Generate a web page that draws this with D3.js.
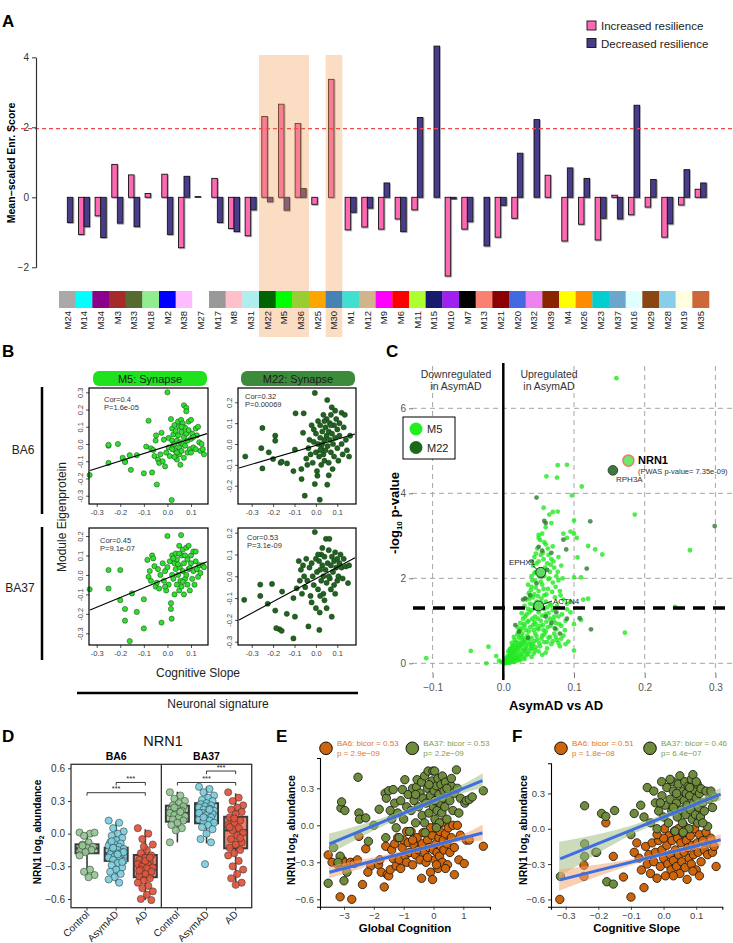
<!DOCTYPE html>
<html><head><meta charset="utf-8">
<script src="https://cdn.jsdelivr.net/npm/d3@7"></script>
<style>body{margin:0;background:#fff}svg{display:block}</style>
</head><body>
<script>
// ---------------- DATA ----------------
const modules = ["M24","M14","M34","M3","M33","M18","M2","M38","M27","M17","M8","M31","M22","M5","M36","M25","M30","M1","M12","M9","M6","M11","M15","M10","M7","M13","M21","M20","M32","M39","M4","M26","M23","M37","M16","M29","M28","M19","M35"];
const moduleColors = ["#A9A9A9","#00FFFF","#8B008B","#A52A2A","#556B2F","#90EE90","#0000FF","#FFBBFF","#FFFFFF","#999999","#FFC0CB","#AFEEEE","#006400","#00FF00","#9ACD32","#FFA500","#4682B4","#40E0D0","#D2B48C","#FF00FF","#FF0000","#ADFF2F","#191970","#A020F0","#000000","#FA8072","#8B0000","#4169E1","#EE82EE","#8B2500","#FFFF00","#FF8C00","#00CED1","#6CA6CD","#E0FFFF","#8B4513","#87CEEB","#FFFFE0","#CD6839"];
const incScore = [0,-1.06,-0.53,0.94,0.64,0.11,0.66,-1.44,0.02,0.54,-0.89,-1.10,2.31,2.66,2.11,-0.20,3.37,-0.93,-0.85,-0.91,-0.62,-0.36,0,-2.25,-0.91,0,-1.14,-0.60,0,0.63,-1.25,-0.77,-1.22,0.06,-0.50,-0.28,-1.14,-0.22,0.23];
const decScore = [-0.72,-0.84,-1.15,-0.74,-0.84,0,-1.06,0.60,0,-0.72,-0.98,-0.36,-0.13,-0.37,0.25,0,0,-0.43,-0.31,0.41,-0.98,2.28,4.32,-0.05,-0.70,-1.39,-0.23,1.26,2.22,0,0.84,0.54,-0.60,-0.62,2.63,0.51,-0.76,0.79,0.41];
const highlighted = [["M22","M36"],["M30","M30"]];
const scoreTicks = [-2,0,2,4];
const threshold = 1.96;

// Panel B
const bM5BA6 = [[-0.33,-0.18],[-0.25,-0.01],[-0.25,-0.005],[-0.25,-0.11],[-0.21,0.0],[-0.19,-0.08],[-0.18,-0.1],[-0.18,-0.105],[-0.16,-0.065],[-0.155,-0.15],[-0.13,-0.065],[-0.1,-0.17],[-0.09,-0.015],[-0.08,0.135],[-0.07,-0.025],[-0.065,-0.165],[-0.06,-0.035],[-0.055,-0.07],[-0.05,0.02],[-0.048,0.05],[-0.045,-0.235],[-0.04,-0.09],[-0.035,-0.11],[-0.03,-0.06],[-0.025,0.065],[-0.02,-0.1],[-0.015,0.025],[-0.01,-0.13],[-0.005,-0.05],[0.0,0.3],[0.005,-0.02],[0.005,0.035],[0.01,-0.07],[0.015,0.145],[0.018,-0.325],[0.02,0.02],[0.02,0.09],[0.025,-0.01],[0.025,0.055],[0.03,0.0],[0.03,0.11],[0.035,-0.04],[0.035,0.075],[0.04,0.02],[0.04,-0.09],[0.045,0.13],[0.045,0.05],[0.05,-0.02],[0.05,0.1],[0.05,-0.06],[0.055,0.01],[0.055,-0.12],[0.058,0.14],[0.06,0.07],[0.06,-0.04],[0.065,0.0],[0.065,0.12],[0.07,0.225],[0.07,0.04],[0.07,-0.08],[0.075,0.095],[0.075,-0.01],[0.08,0.21],[0.08,0.06],[0.08,0.19],[0.085,0.02],[0.085,-0.05],[0.09,0.13],[0.09,0.08],[0.095,-0.03],[0.1,0.03],[0.1,0.14],[0.105,0.06],[0.11,-0.02],[0.12,0.09],[0.12,-0.03],[0.125,0.05],[0.13,0.1],[0.135,0.01],[0.14,-0.04],[0.145,0.0],[0.15,-0.03],[0.155,-0.06],[0.06,0.1],[0.04,-0.05],[0.03,-0.075],[0.02,-0.03],[0.1,-0.05],[0.11,0.04]];
const bM22BA6 = [[-0.33,-0.06],[-0.25,0.077],[-0.255,-0.02],[-0.25,-0.117],[-0.22,-0.04],[-0.19,0.04],[-0.19,0.016],[-0.2,-0.072],[-0.165,-0.09],[-0.16,-0.085],[-0.135,-0.093],[-0.105,-0.13],[-0.095,0.147],[-0.098,-0.027],[-0.057,0.147],[-0.068,-0.12],[-0.067,-0.168],[-0.052,-0.248],[-0.06,0.054],[-0.045,-0.07],[-0.04,-0.1],[-0.035,-0.02],[-0.03,0.02],[-0.025,-0.05],[-0.02,0.09],[-0.015,-0.09],[-0.01,0.01],[-0.005,0.245],[-0.005,-0.192],[0.0,0.05],[0.0,-0.04],[0.005,-0.13],[0.007,-0.152],[0.01,0.11],[0.01,0.0],[0.015,-0.06],[0.018,-0.267],[0.02,0.03],[0.02,0.09],[0.025,-0.02],[0.025,-0.1],[0.03,0.06],[0.03,0.0],[0.035,0.14],[0.035,-0.05],[0.04,0.02],[0.04,-0.08],[0.045,0.08],[0.045,-0.03],[0.05,0.04],[0.05,0.12],[0.053,0.211],[0.053,-0.195],[0.055,-0.01],[0.06,0.06],[0.06,-0.09],[0.065,0.1],[0.065,0.02],[0.07,-0.04],[0.07,0.14],[0.074,0.176],[0.075,0.05],[0.078,-0.12],[0.08,0.0],[0.085,0.09],[0.085,-0.06],[0.09,0.03],[0.095,0.12],[0.1,-0.02],[0.1,0.07],[0.105,-0.08],[0.11,0.04],[0.12,0.15],[0.12,0.0],[0.125,-0.05],[0.13,0.08],[0.135,0.14],[0.14,0.02],[0.145,-0.03],[0.155,-0.06],[0.16,0.04],[0.09,0.16],[0.07,0.09],[0.04,0.11],[0.02,-0.03],[0.11,0.1],[-0.01,0.07],[0.06,-0.15]];
const bM5BA37 = [[-0.33,-0.074],[-0.25,-0.07],[-0.25,0.025],[-0.2,0.025],[-0.2,-0.13],[-0.18,-0.175],[-0.18,-0.235],[-0.16,-0.34],[-0.15,-0.095],[-0.13,-0.19],[-0.1,-0.275],[-0.1,-0.125],[-0.085,0.077],[-0.08,-0.01],[-0.075,0.02],[-0.07,-0.03],[-0.065,0.1],[-0.06,0.085],[-0.055,0.045],[-0.05,-0.06],[-0.045,-0.04],[-0.04,0.03],[-0.035,-0.07],[-0.03,0.0],[-0.025,-0.245],[-0.02,0.06],[-0.015,-0.03],[-0.01,0.02],[-0.005,-0.08],[0.0,0.2],[0.0,0.04],[0.005,-0.05],[0.01,0.07],[0.015,-0.145],[0.015,-0.175],[0.018,-0.225],[0.02,0.0],[0.02,0.1],[0.025,-0.02],[0.03,0.06],[0.03,-0.1],[0.035,0.03],[0.035,0.11],[0.04,-0.05],[0.04,0.08],[0.045,0.0],[0.05,0.15],[0.05,-0.08],[0.052,0.04],[0.055,-0.03],[0.058,0.205],[0.06,0.1],[0.06,-0.06],[0.065,0.02],[0.065,0.13],[0.07,-0.1],[0.07,0.06],[0.075,-0.02],[0.075,0.1],[0.08,0.14],[0.08,0.0],[0.085,-0.05],[0.085,0.08],[0.09,0.03],[0.09,0.15],[0.095,-0.08],[0.1,0.06],[0.1,0.1],[0.105,-0.02],[0.11,0.12],[0.11,0.02],[0.115,-0.05],[0.12,0.07],[0.125,0.03],[0.13,-0.01],[0.135,0.05],[0.14,0.01],[0.15,0.05],[0.155,0.04],[0.045,0.055],[0.025,0.085],[-0.01,-0.06],[0.065,-0.035],[0.095,0.035],[0.05,0.11],[0.12,0.12]];
const bM22BA37 = [[-0.335,-0.108],[-0.26,-0.038],[-0.26,-0.09],[-0.225,-0.126],[-0.205,-0.035],[-0.19,-0.157],[-0.17,-0.243],[-0.185,-0.238],[-0.16,-0.25],[-0.158,-0.07],[-0.136,-0.172],[-0.105,-0.1],[-0.105,-0.285],[-0.098,-0.185],[-0.09,-0.055],[-0.08,0.07],[-0.075,-0.02],[-0.07,0.03],[-0.065,-0.08],[-0.06,0.05],[-0.055,0.0],[-0.05,-0.05],[-0.045,0.08],[-0.04,-0.02],[-0.035,-0.23],[-0.03,0.04],[-0.025,-0.09],[-0.02,0.06],[-0.015,0.0],[-0.01,-0.04],[-0.005,0.203],[0.0,-0.146],[0.0,0.08],[0.005,0.02],[0.01,-0.06],[0.015,0.07],[0.016,-0.246],[0.018,-0.166],[0.02,0.03],[0.025,-0.02],[0.025,0.1],[0.03,0.05],[0.035,-0.08],[0.035,0.0],[0.04,0.09],[0.045,0.03],[0.047,0.172],[0.05,-0.146],[0.05,-0.03],[0.055,0.06],[0.06,0.12],[0.063,0.172],[0.065,-0.01],[0.07,0.05],[0.07,-0.06],[0.074,-0.185],[0.075,0.09],[0.08,0.02],[0.085,0.07],[0.085,-0.04],[0.09,0.11],[0.095,0.04],[0.1,0.08],[0.1,-0.02],[0.105,0.0],[0.11,0.06],[0.115,0.1],[0.12,0.04],[0.125,-0.01],[0.13,0.08],[0.14,0.045],[0.15,-0.031],[0.155,0.05],[0.06,0.0],[0.04,-0.11],[0.03,0.13],[0.02,-0.09],[0.09,-0.08],[0.01,0.1],[-0.02,-0.12]];
// regression [intercept, slope]
const bFits = {M5BA6:[-0.012,0.43], M22BA6:[-0.007,0.30], M5BA37:[-0.016,0.50], M22BA37:[-0.011,0.527]};
const bStats = {M5BA6:["Cor=0.4","P=1.6e-05"], M22BA6:["Cor=0.32","P=0.00069"], M5BA37:["Cor=0.45","P=9.1e-07"], M22BA37:["Cor=0.53","P=3.1e-09"]};

// Panel C
const volcM5 = [[0,0.02],[0.002,0.05],[0.004,0.03],[0.006,0.08],[0.008,0.05],[0.01,0.1],[0.012,0.04],[0.014,0.15],[0.016,0.08],[0.018,0.2],[0.02,0.12],[0.022,0.25],[0.025,0.18],[0.028,0.3],[0.03,0.1],[0.035,0.22],[-0.003,0.03],[-0.006,0.06],[-0.01,0.17],[-0.021,0.39],[-0.024,0.0],[-0.046,0.29],[-0.109,0.12],[0.004,0.12],[0.009,0.2],[0.013,0.27],[0.017,0.33],[0.024,0.07],[0.04,0.15],[0.045,0.3],
[0.01,0.35],[0.014,0.42],[0.018,0.5],[0.02,0.38],[0.022,0.6],[0.025,0.45],[0.027,0.7],[0.03,0.55],[0.032,0.4],[0.034,0.65],[0.036,0.75],[0.038,0.5],[0.04,0.6],[0.042,0.45],[0.045,0.7],[0.048,0.55],[0.05,0.8],[0.052,0.4],[0.055,0.65],[0.058,0.5],[0.06,0.75],[0.064,0.6],[0.068,0.45],[0.072,0.7],[0.076,0.55],[0.08,0.4],[0.085,0.65],[0.092,0.51],[0.1,0.3],[0.015,0.62],[0.024,0.78],[0.03,0.32],[0.046,0.38],[0.062,0.35],[0.007,0.28],[0.012,0.48],[0.02,0.68],
[0.02,0.85],[0.024,0.95],[0.028,1.05],[0.03,0.88],[0.033,1.15],[0.036,1.0],[0.04,1.25],[0.042,0.9],[0.045,1.1],[0.048,0.82],[0.05,1.2],[0.053,1.0],[0.056,0.9],[0.06,1.15],[0.063,0.85],[0.066,1.05],[0.07,1.25],[0.074,0.95],[0.078,1.1],[0.082,0.88],[0.088,1.0],[0.095,1.2],[0.1,0.92],[0.11,1.02],[0.172,0.72],[0.035,1.28],[0.058,1.28],[0.09,1.27],[0.026,1.18],[0.044,0.98],
[0.03,1.35],[0.033,1.5],[0.036,1.65],[0.038,1.4],[0.04,1.8],[0.042,1.55],[0.045,1.95],[0.047,1.45],[0.05,1.7],[0.052,1.35],[0.055,1.85],[0.058,1.6],[0.06,1.45],[0.063,1.75],[0.066,1.4],[0.07,1.9],[0.073,1.55],[0.076,1.35],[0.08,1.7],[0.085,1.5],[0.09,1.4],[0.095,1.45],[0.113,1.5],[0.12,1.52],[0.243,1.33],[0.064,1.98],[0.078,1.95],[0.035,1.85],[0.044,1.62],[0.054,1.52],
[0.04,2.05],[0.042,2.3],[0.044,2.5],[0.046,2.15],[0.048,2.7],[0.05,2.4],[0.052,2.9],[0.054,2.2],[0.056,2.6],[0.058,2.05],[0.06,2.8],[0.062,2.35],[0.064,2.55],[0.066,2.15],[0.068,2.45],[0.07,2.75],[0.072,2.25],[0.075,2.05],[0.078,2.5],[0.082,2.3],[0.09,2.95],[0.1,2.02],[0.105,2.49],[0.11,2.02],[0.12,2.76],[0.13,2.68],[0.14,2.56],[0.264,2.66],[0.05,2.95],[0.058,2.85],
[0.055,3.05],[0.06,3.2],[0.065,3.5],[0.07,3.56],[0.077,3.57],[0.057,3.66],[0.085,3.05],[0.095,3.1],[0.1,3.05],[0.1,3.36],[0.104,2.95],[0.186,3.5],[0.097,3.95],[0.111,4.16],[0.061,4.4],[0.076,4.37],[0.077,4.66],[0.09,4.67],[0.16,6.71],[0.05,3.02],[0.068,3.3],
[0.001,0.01],[0.003,0.0],[0.005,0.015],[0.007,0.025],[0.009,0.01],[0.011,0.06],[0.013,0.09],[0.015,0.03],[0.017,0.12],[0.019,0.06],[0.021,0.16],[0.023,0.1],[0.026,0.22],[0.029,0.14],[0.031,0.26],[0.033,0.19],[0.037,0.28],[0.039,0.35],[0.043,0.23],[0.05,0.28],[0.055,0.2],[0.06,0.25],[0.008,0.14],[0.011,0.22],[0.015,0.29],[0.019,0.36],[0.023,0.41],[0.026,0.52],[0.028,0.6],[0.032,0.48],[0.035,0.58],[0.04,0.42],[0.044,0.52],[0.047,0.64],[0.051,0.47],[0.054,0.58],[0.058,0.68],[0.062,0.5],[0.066,0.62],[0.07,0.52],[0.074,0.62],[0.078,0.48],[0.082,0.58],[0.088,0.45],
[0.022,0.72],[0.026,0.82],[0.029,0.92],[0.032,0.78],[0.034,0.97],[0.038,0.85],[0.041,1.05],[0.043,0.78],[0.046,0.92],[0.049,1.05],[0.052,0.88],[0.055,1.12],[0.057,0.78],[0.061,0.98],[0.064,1.18],[0.067,0.88],[0.071,1.02],[0.075,0.8],[0.079,0.92],[0.083,1.15],[0.087,0.78],[0.031,1.1],[0.037,1.2],[0.043,1.38],[0.048,1.28],[0.053,1.42],[0.062,1.32],[0.068,1.36],[0.072,1.1],
[0.037,1.52],[0.039,1.72],[0.041,1.95],[0.044,2.12],[0.046,1.78],[0.049,1.58],[0.051,2.05],[0.053,1.92],[0.057,1.75],[0.059,2.25],[0.061,1.62],[0.065,2.0],[0.069,1.68],[0.071,2.4],[0.074,1.8],[0.077,2.15],[0.081,1.6],[0.084,2.0],[0.047,2.35],[0.053,2.55],[0.057,2.45],[0.063,2.7],[0.067,2.32],[0.046,2.58],
[0.002,0.09],[0.006,0.17],[0.01,0.27],[0.014,0.36],[0.018,0.44],[0.004,0.06],[0.012,0.17],[0.016,0.24],[0.02,0.31],[0.024,0.35],[0.027,0.42],[0.016,0.55],[0.021,0.48],[0.013,0.4],[0.009,0.32],[0.033,0.34],[0.037,0.44],[0.041,0.35],[0.029,0.5],[0.025,0.63]];
const volcM22 = [[0.047,3.9],[0.058,3.35],[0.06,3.3],[0.123,3.34],[0.299,3.23],[0.085,2.91],[0.089,2.68],[0.068,2.6],[0.05,2.74],[0.055,2.65],[0.118,2.23],[0.047,1.88],[0.031,1.53],[0.028,1.5],[0.017,0.9],[0.022,0.75],[0.108,1.06],[0.124,0.8],[0.073,0.82],[0.068,0.95],[0.06,1.1],[0.045,1.3],[0.038,1.6],[0.055,2.05],[0.062,2.2],[0.04,2.4],[0.075,1.2],[0.08,0.7],[0.035,0.6],[0.09,1.05]];
const volcGenes = [{name:"NRN1",x:0.177,y:4.77},{name:"RPH3A",x:0.155,y:4.54},{name:"EPHX1",x:0.053,y:2.14},{name:"ACTN4",x:0.050,y:1.35}];
const volcXTicks = [-0.1,0,0.1,0.2,0.3];
const volcYTicks = [0,2,4,6];
const pThreshold = 0.05;

// Panel D
const dGroups = ["Control","AsymAD","AD"];
const dRegions = ["BA6","BA37"];
const dValues = {
 BA6:{Control:[0.01,0.0,-0.02,0.01,-0.08,-0.1,-0.12,-0.13,-0.14,-0.15,-0.17,-0.2,-0.33,-0.35,-0.38,-0.4,-0.11],
      AsymAD:[0.12,0.1,0.05,0.02,0.0,-0.02,-0.04,-0.06,-0.08,-0.09,-0.1,-0.11,-0.12,-0.13,-0.14,-0.15,-0.16,-0.17,-0.18,-0.19,-0.2,-0.21,-0.22,-0.23,-0.24,-0.25,-0.27,-0.29,-0.31,-0.33,-0.35,-0.37,-0.4,-0.42,-0.45,-0.13,-0.17,-0.19,-0.07,-0.26],
      AD:[0.05,0.0,-0.05,-0.1,-0.15,-0.18,-0.2,-0.22,-0.24,-0.26,-0.27,-0.28,-0.29,-0.3,-0.31,-0.32,-0.33,-0.35,-0.37,-0.39,-0.41,-0.43,-0.45,-0.48,-0.5,-0.53,-0.56,-0.6,-0.61,-0.25,-0.34,-0.22,-0.12]},
 BA37:{Control:[0.38,0.35,0.32,0.3,0.28,0.26,0.25,0.23,0.22,0.21,0.2,0.19,0.18,0.17,0.16,0.15,0.13,0.12,0.1,0.08,0.05,0.03,-0.08,0.2,0.24],
      AsymAD:[0.43,0.41,0.38,0.35,0.33,0.31,0.3,0.28,0.27,0.26,0.25,0.24,0.23,0.22,0.21,0.2,0.19,0.18,0.17,0.16,0.15,0.14,0.13,0.12,0.11,0.1,0.08,0.06,0.04,0.0,-0.05,-0.08,-0.28,0.19,0.22,0.15],
      AD:[0.38,0.33,0.3,0.26,0.24,0.22,0.2,0.18,0.15,0.12,0.1,0.08,0.05,0.03,0.01,-0.02,-0.05,-0.08,-0.1,-0.13,-0.15,-0.18,-0.2,-0.25,-0.3,-0.33,-0.37,-0.41,-0.45,-0.47,0.06,-0.04,0.14]}
};
// [whiskerLow, q1, median, q3, whiskerHigh]
const dBoxes = {
 BA6:{Control:[-0.395,-0.18,-0.135,-0.098,0.01],AsymAD:[-0.455,-0.25,-0.18,-0.129,0.11],AD:[-0.61,-0.40,-0.29,-0.196,0.04]},
 BA37:{Control:[-0.08,0.11,0.19,0.257,0.385],AsymAD:[-0.09,0.095,0.20,0.28,0.43],AD:[-0.49,-0.135,0.03,0.155,0.37]}
};
const dBrackets = [{r:"BA6",a:"Control",b:"AD",y:0.376},{r:"BA6",a:"AsymAD",b:"AD",y:0.47},{r:"BA37",a:"Control",b:"AD",y:0.47},{r:"BA37",a:"AsymAD",b:"AD",y:0.575}];
const abundTicks = [-0.6,-0.3,0,0.3,0.6];

// Panel E
const eBA6 = [[-3.53,-0.24],[-3.4,-0.3],[-3.13,-0.58],[-3.2,-0.32],[-3.05,-0.28],[-3.0,-0.3],[-2.78,-0.3],[-2.74,-0.6],[-2.66,-0.31],[-2.55,-0.28],[-2.5,-0.09],[-2.38,-0.48],[-2.27,-0.19],[-2.1,-0.33],[-1.84,-0.32],[-1.75,-0.38],[-1.65,-0.5],[-1.6,-0.17],[-1.55,-0.4],[-1.5,-0.41],[-1.45,-0.36],[-1.4,-0.2],[-1.35,-0.27],[-1.3,-0.15],[-1.25,-0.33],[-1.2,-0.1],[-1.15,-0.28],[-1.1,-0.35],[-1.05,-0.18],[-1.0,-0.12],[-0.95,-0.25],[-0.9,-0.3],[-0.85,-0.14],[-0.8,-0.22],[-0.75,-0.05],[-0.7,-0.32],[-0.65,-0.16],[-0.6,-0.24],[-0.55,-0.1],[-0.5,-0.2],[-0.45,-0.28],[-0.4,-0.43],[-0.38,-0.15],[-0.35,-0.06],[-0.3,-0.22],[-0.25,-0.3],[-0.2,-0.12],[-0.15,-0.18],[-0.1,-0.38],[-0.05,-0.08],[-0.03,-0.44],[0.0,-0.2],[0.02,-0.02],[0.05,-0.28],[0.08,-0.15],[0.1,0.0],[0.12,-0.22],[0.15,-0.35],[0.18,-0.1],[0.2,-0.25],[0.22,-0.05],[0.25,-0.17],[0.28,0.02],[0.3,-0.3],[0.33,-0.12],[0.35,-0.2],[0.4,-0.07],[0.45,-0.15],[0.47,-0.32],[0.5,-0.02],[0.55,-0.22],[0.6,-0.1],[0.65,0.0],[0.7,-0.18],[0.8,0.0],[0.85,-0.28],[0.9,-0.08],[1.03,-0.31],[1.1,-0.12],[1.2,-0.12],[1.67,-0.17],[-0.7,-0.12],[-0.2,-0.26],[0.1,-0.32],[-0.9,-0.05],[-2.2,-0.38],[-0.1,-0.02],[0.4,-0.35],[-1.8,-0.28],[0.7,-0.4]];
const eBA37 = [[-3.53,-0.47],[-3.35,-0.18],[-3.13,-0.25],[-3.1,0.14],[-3.08,0.19],[-2.97,0.12],[-3.0,-0.45],[-2.9,-0.38],[-2.53,0.39],[-2.5,0.1],[-2.48,0.05],[-2.27,0.06],[-2.18,-0.13],[-2.0,0.0],[-1.82,0.13],[-1.62,0.26],[-1.58,0.22],[-1.5,0.28],[-1.45,0.12],[-1.4,0.05],[-1.35,0.29],[-1.3,0.18],[-1.25,-0.02],[-1.2,0.1],[-1.15,-0.1],[-1.1,0.2],[-1.04,0.29],[-1.0,0.05],[-0.96,0.37],[-0.9,0.15],[-0.85,0.25],[-0.8,-0.05],[-0.75,0.12],[-0.7,0.3],[-0.65,0.2],[-0.6,0.02],[-0.57,0.31],[-0.55,0.37],[-0.5,0.15],[-0.45,0.26],[-0.4,0.35],[-0.38,0.08],[-0.35,0.22],[-0.3,0.4],[-0.28,-0.06],[-0.25,0.18],[-0.2,0.3],[-0.18,0.44],[-0.15,0.1],[-0.1,0.24],[-0.05,0.36],[-0.02,0.44],[0.0,0.15],[0.02,0.28],[0.04,0.44],[0.05,0.05],[0.08,0.2],[0.1,0.32],[0.12,0.12],[0.15,0.38],[0.18,0.25],[0.2,0.02],[0.22,0.18],[0.25,0.33],[0.28,0.1],[0.3,0.4],[0.33,0.22],[0.35,0.28],[0.38,0.15],[0.4,0.35],[0.45,0.05],[0.5,0.25],[0.55,0.2],[0.6,0.32],[0.65,0.12],[0.7,0.26],[0.77,0.45],[0.8,0.3],[0.85,0.1],[0.9,0.22],[1.05,0.18],[1.1,0.2],[1.2,0.21],[1.3,0.23],[1.67,0.28],[0.6,0.38],[-0.15,0.33],[0.05,0.2],[-0.6,0.25],[0.45,0.3],[-1.6,-0.1],[-3.2,-0.3],[-0.3,0.02],[0.1,-0.02]];
const eLineBA6 = [[-3.49,-0.381],[1.64,-0.062]];
const eLineBA37 = [[-3.49,-0.151],[1.64,0.362]];
const eBandBA6 = [[-3.5,-0.432,-0.332],[-2,-0.318,-0.258],[-1,-0.246,-0.206],[0,-0.184,-0.144],[1,-0.132,-0.072],[1.65,-0.126,0.004]];
const eBandBA37 = [[-3.5,-0.237,-0.067],[-2,-0.042,0.038],[-1,0.073,0.123],[0,0.173,0.223],[1,0.263,0.333],[1.65,0.303,0.423]];
const eLegend = [["BA6: bicor = 0.53","p =  2.9e\u221209"],["BA37: bicor = 0.53","p= 2.2e\u221209"]];
const eXTicks = [-3,-2,-1,0,1];

// Panel F
const fBA6 = [[-0.318,-0.6],[-0.244,-0.31],[-0.244,-0.405],[-0.208,-0.2],[-0.177,0.05],[-0.154,-0.235],[-0.123,-0.41],[-0.1,-0.58],[-0.082,-0.12],[-0.075,-0.25],[-0.068,-0.35],[-0.06,-0.5],[-0.055,-0.15],[-0.05,-0.3],[-0.045,-0.22],[-0.04,-0.38],[-0.035,-0.12],[-0.03,-0.28],[-0.025,-0.2],[-0.02,-0.42],[-0.015,-0.1],[-0.01,-0.32],[-0.005,-0.18],[0.0,-0.25],[0.003,0.0],[0.006,-0.4],[0.01,-0.14],[0.013,-0.3],[0.016,-0.06],[0.02,-0.22],[0.023,-0.35],[0.026,-0.1],[0.03,-0.27],[0.033,-0.02],[0.036,-0.18],[0.04,-0.32],[0.043,-0.08],[0.046,-0.22],[0.05,-0.38],[0.053,-0.12],[0.056,-0.28],[0.06,-0.04],[0.063,-0.2],[0.066,-0.33],[0.07,-0.1],[0.072,-0.43],[0.075,-0.16],[0.078,-0.25],[0.082,-0.06],[0.085,-0.3],[0.088,-0.14],[0.092,-0.22],[0.095,0.0],[0.1,-0.35],[0.103,-0.12],[0.106,-0.2],[0.11,-0.05],[0.115,-0.28],[0.12,-0.1],[0.125,-0.18],[0.13,-0.03],[0.135,-0.22],[0.14,-0.12],[0.145,-0.08],[0.15,-0.2],[0.155,-0.15],[0.161,-0.32],[0.0,-0.08],[0.03,-0.4],[0.09,-0.36],[-0.02,-0.05],[0.11,-0.4],[0.065,0.02],[0.045,0.0],[-0.09,-0.2]];
const fBA37 = [[-0.316,-0.405],[-0.242,0.195],[-0.242,-0.235],[-0.242,-0.128],[-0.205,-0.2],[-0.19,0.13],[-0.177,0.105],[-0.174,-0.45],[-0.154,-0.47],[-0.15,0.155],[-0.09,0.13],[-0.07,0.2],[-0.06,0.1],[-0.05,0.35],[-0.04,0.05],[-0.03,0.32],[-0.025,0.22],[-0.02,0.0],[-0.015,0.15],[-0.006,0.4],[-0.005,0.28],[0.0,0.1],[0.005,0.2],[0.01,0.35],[0.015,0.05],[0.02,0.25],[0.025,0.15],[0.028,0.4],[0.03,0.32],[0.035,-0.02],[0.04,0.22],[0.042,0.1],[0.045,0.38],[0.048,0.28],[0.05,0.45],[0.055,0.16],[0.058,0.05],[0.06,0.32],[0.063,0.24],[0.065,0.4],[0.068,0.12],[0.07,0.3],[0.072,0.2],[0.075,0.36],[0.078,0.0],[0.08,0.28],[0.083,0.16],[0.085,0.42],[0.088,0.08],[0.09,0.46],[0.092,0.22],[0.095,0.33],[0.098,0.12],[0.1,0.26],[0.103,0.38],[0.105,0.05],[0.108,0.18],[0.11,0.3],[0.113,0.1],[0.115,0.34],[0.12,0.22],[0.125,0.15],[0.13,0.32],[0.135,0.02],[0.14,0.25],[0.145,0.32],[0.15,0.18],[0.155,0.27],[0.02,0.42],[0.04,0.3],[-0.01,0.22],[0.06,-0.03],[0.1,0.4],[0.12,0.05],[-0.1,-0.05],[0.03,0.18],[0.08,0.35]];
const fLineBA6 = [[-0.317,-0.434],[0.175,-0.094]];
const fLineBA37 = [[-0.317,-0.256],[0.175,0.294]];
const fBandBA6 = [[-0.32,-0.526,-0.346],[-0.2,-0.403,-0.303],[-0.1,-0.309,-0.259],[0,-0.235,-0.195],[0.1,-0.176,-0.116],[0.175,-0.144,-0.044]];
const fBandBA37 = [[-0.32,-0.41,-0.11],[-0.2,-0.206,-0.046],[-0.1,-0.054,0.026],[0,0.073,0.123],[0.1,0.18,0.24],[0.175,0.239,0.349]];
const fLegend = [["BA6: bicor = 0.51","p =  1.8e\u221208"],["BA37: bicor = 0.46","p= 6.4e\u221207"]];
const slopeTicks = [-0.3,-0.2,-0.1,0,0.1];

// ---------------- DRAWING ----------------
const FONT = "'Liberation Sans', Arial, Helvetica, sans-serif";
const svg = d3.select("body").append("svg").attr("width",733).attr("height",943).style("font-family",FONT);
const defs = svg.append("defs");
const filt = defs.append("filter").attr("id","sh").attr("x","-20%").attr("y","-20%").attr("width","160%").attr("height","160%");
filt.append("feDropShadow").attr("dx",0.8).attr("dy",0.8).attr("stdDeviation",0.4).attr("flood-color","#777").attr("flood-opacity",0.8);

function txt(g,t,x,y,o={}){
  const e=g.append("text").attr("x",x).attr("y",y).text(t)
   .attr("font-size",o.size||10).attr("fill",o.fill||"#000");
  if(o.bold) e.attr("font-weight","bold");
  if(o.anchor) e.attr("text-anchor",o.anchor);
  return e;
}
function rtxt(g,t,x,y,o={}){
  const e=g.append("text").attr("transform",`translate(${x},${y}) rotate(-90)`).text(t)
   .attr("font-size",o.size||10).attr("fill",o.fill||"#000").attr("text-anchor",o.anchor||"middle");
  if(o.bold) e.attr("font-weight","bold");
  return e;
}
function panelLetter(t,x,y){ txt(svg,t,x,y,{size:17,bold:true}); }

// ===== Panel A =====
panelLetter("A",2,27);
const gA = svg.append("g");
const xA = d3.scaleBand().domain(modules).range([59,709]);
const xSub = d3.scaleBand().domain(["inc","dec"]).range([0,xA.bandwidth()]).paddingOuter(0.5);
const yA = d3.scaleLinear().domain([-2,4]).range([267.3,57.3]);
const barData = [];
modules.forEach((m,i)=>{barData.push({m,k:"inc",v:incScore[i]});barData.push({m,k:"dec",v:decScore[i]});});
gA.append("g").selectAll("rect").data(barData).join("rect")
  .attr("x",d=>xA(d.m)+xSub(d.k)).attr("width",xSub.bandwidth())
  .attr("y",d=>yA(Math.max(0,d.v))).attr("height",d=>Math.abs(yA(d.v)-yA(0)))
  .attr("fill",d=>d.k==="inc"?"#FF69B4":"#483D8B")
  .attr("stroke","#111").attr("stroke-width",0.9).attr("filter","url(#sh)");
gA.append("g").selectAll("rect").data(highlighted).join("rect")
  .attr("x",d=>xA(d[0])).attr("width",d=>xA(d[1])+xA.bandwidth()-xA(d[0]))
  .attr("y",55).attr("height",282).attr("fill","#F4A25A").attr("opacity",0.36);
gA.append("line").attr("x1",7).attr("x2",733).attr("y1",yA(threshold)).attr("y2",yA(threshold))
  .attr("stroke","#F24B4B").attr("stroke-width",1.2).attr("stroke-dasharray","4,3");
const axA = gA.append("g").attr("transform","translate(36,0)")
  .call(d3.axisLeft(yA).tickValues(scoreTicks).tickSize(4).tickSizeOuter(0).tickFormat(d3.format("d")));
axA.select(".domain").attr("stroke","#333").attr("stroke-width",1.2);
axA.selectAll(".tick line").attr("stroke","#333");
axA.selectAll(".tick text").attr("font-size",10).attr("fill","#333").attr("font-family",FONT);
rtxt(gA,"Mean\u2212scaled Enr. Score",15,163,{size:10.5,bold:true});
gA.append("g").selectAll("rect").data(modules).join("rect")
  .attr("x",d=>xA(d)).attr("width",xA.bandwidth()+0.3).attr("y",291).attr("height",17)
  .attr("fill",(d,i)=>moduleColors[i]);
gA.append("g").selectAll("text").data(modules).join("text")
  .attr("transform",d=>`translate(${xA(d)+xA.bandwidth()/2},311) rotate(-90)`)
  .attr("text-anchor","end").attr("dy","0.35em").attr("font-size",9.5).attr("fill","#222").text(d=>d);
[["Increased resilience","#FF69B4"],["Decreased resilience","#483D8B"]].forEach((d,i)=>{
  gA.append("rect").attr("x",587).attr("y",21+i*17.5).attr("width",9).attr("height",9)
    .attr("fill",d[1]).attr("stroke","#111").attr("stroke-width",0.9);
  txt(gA,d[0],601,30+i*17.5,{size:11.5,fill:"#222"});
});

// ===== Panel B =====
panelLetter("B",2,357);
const gB = svg.append("g");
[["M5: Synapse",93,"#1FE21F"],["M22: Synapse",241,"#3B8B3B"]].forEach(d=>{
  gB.append("rect").attr("x",d[1]).attr("y",371).attr("width",114).attr("height",15).attr("rx",6).attr("fill",d[2]);
  txt(gB,d[0],d[1]+57,382.5,{size:11,anchor:"middle",fill:"#1a1a1a"});
});
gB.append("line").attr("x1",42).attr("x2",42).attr("y1",387).attr("y2",514).attr("stroke","#000").attr("stroke-width",2.5);
gB.append("line").attr("x1",42).attr("x2",42).attr("y1",527).attr("y2",660).attr("stroke","#000").attr("stroke-width",2.5);
txt(gB,"BA6",23,454,{size:12,anchor:"middle",fill:"#222"});
txt(gB,"BA37",20,592,{size:12,anchor:"middle",fill:"#222"});
rtxt(gB,"Module Eigenprotein",66,517,{size:12,fill:"#222"});
txt(gB,"Cognitive Slope",198,677,{size:12,anchor:"middle",fill:"#222"});
gB.append("line").attr("x1",77).attr("x2",358).attr("y1",693).attr("y2",693).attr("stroke","#000").attr("stroke-width",2.5);
txt(gB,"Neuronal signature",218,708,{size:12,anchor:"middle",fill:"#222"});

function panelB(cfg){
  const g = gB.append("g");
  const x = d3.scaleLinear().domain([-0.3,0.1]).range(cfg.xr);
  const y = d3.scaleLinear().domain(cfg.yd).range(cfg.yr);
  const [bx0,bx1,by0,by1] = cfg.box;
  const fmt = d=>d3.format(".1f")(d).replace("\u2212","-");
  const xt = g.append("g").attr("transform",`translate(0,${by1})`)
    .call(d3.axisBottom(x).tickValues([-0.3,-0.2,-0.1,0,0.1]).tickSize(3).tickPadding(3).tickFormat(fmt));
  xt.select(".domain").remove();
  xt.selectAll(".tick line").attr("stroke","#555");
  xt.selectAll(".tick text").attr("font-size",7.5).attr("fill","#444").attr("font-family",FONT);
  const yt = g.append("g").attr("transform",`translate(${bx0},0)`)
    .call(d3.axisLeft(y).tickValues(cfg.yt).tickSize(3).tickFormat(fmt));
  yt.select(".domain").remove();
  yt.selectAll(".tick line").attr("stroke","#555");
  yt.selectAll(".tick text").attr("font-size",7.5).attr("fill","#444").attr("font-family",FONT)
    .attr("text-anchor","middle").attr("x",0).attr("dy",0).attr("transform","translate(-6,0) rotate(-90)");
  g.append("g").selectAll("circle").data(cfg.pts).join("circle")
    .attr("cx",d=>x(d[0])).attr("cy",d=>y(d[1])).attr("r",2.6)
    .attr("fill",cfg.fill).attr("stroke","#1a3a1a").attr("stroke-width",0.5);
  const [a,b] = cfg.fit;
  const xs = [x.invert(bx0+1), x.invert(bx1-1)];
  g.append("line").attr("x1",x(xs[0])).attr("y1",y(a+b*xs[0])).attr("x2",x(xs[1])).attr("y2",y(a+b*xs[1]))
    .attr("stroke","#000").attr("stroke-width",1.1);
  g.append("rect").attr("x",bx0).attr("y",by0).attr("width",bx1-bx0).attr("height",by1-by0)
    .attr("fill","none").attr("stroke","#000").attr("stroke-width",1.2);
  txt(g,cfg.stat[0],bx0+cfg.tx,by0+cfg.ty,{size:7.5,fill:"#333"});
  txt(g,cfg.stat[1],bx0+cfg.tx,by0+cfg.ty+8,{size:7.5,fill:"#333"});
}
panelB({xr:[96.7,191],yd:[-0.3,0.3],yr:[495.7,392.3],box:[89,208,388,504],yt:[-0.3,-0.2,-0.1,0,0.1,0.2,0.3],pts:bM5BA6,fill:"#2EE02E",fit:bFits.M5BA6,stat:bStats.M5BA6,tx:15,ty:14});
panelB({xr:[251.7,337.3],yd:[-0.2,0.2],yr:[485.7,402.3],box:[238,356,388,504],yt:[-0.2,-0.1,0,0.1,0.2],pts:bM22BA6,fill:"#1F641F",fit:bFits.M22BA6,stat:bStats.M22BA6,tx:7,ty:11});
panelB({xr:[96.7,191],yd:[-0.3,0.2],yr:[633.3,536],box:[89,208,528,645],yt:[-0.3,-0.2,-0.1,0,0.1,0.2],pts:bM5BA37,fill:"#2EE02E",fit:bFits.M5BA37,stat:bStats.M5BA37,tx:11,ty:15});
panelB({xr:[251.7,337.3],yd:[-0.3,0.2],yr:[641.7,532.7],box:[238,356,528,645],yt:[-0.3,-0.2,-0.1,0,0.1,0.2],pts:bM22BA37,fill:"#1F641F",fit:bFits.M22BA37,stat:bStats.M22BA37,tx:9,ty:12});

// ===== Panel C =====
panelLetter("C",386,357);
const gC = svg.append("g");
const xC = d3.scaleLinear().domain([0,0.3]).range([503.3,715.4]);
const yC = d3.scaleLinear().domain([0,6]).range([663.3,408.3]);
gC.append("g").selectAll("line").data(volcXTicks.filter(d=>d!==0)).join("line")
  .attr("x1",d=>xC(d)).attr("x2",d=>xC(d)).attr("y1",366).attr("y2",673)
  .attr("stroke","#9a9a9a").attr("stroke-width",0.9).attr("stroke-dasharray","5,4");
gC.append("g").selectAll("line").data(volcYTicks).join("line")
  .attr("x1",412).attr("x2",733).attr("y1",d=>yC(d)).attr("y2",d=>yC(d))
  .attr("stroke","#9a9a9a").attr("stroke-width",0.9).attr("stroke-dasharray","5,4");
const axCx = gC.append("g").attr("transform","translate(0,673)")
  .call(d3.axisBottom(xC).tickValues(volcXTicks).tickSize(5).tickPadding(6).tickFormat(d3.format(".1f")));
axCx.select(".domain").remove();
axCx.selectAll(".tick line").attr("stroke","#777");
axCx.selectAll(".tick text").attr("font-size",10).attr("fill","#555").attr("font-family",FONT);
const axCy = gC.append("g").attr("transform","translate(413,0)")
  .call(d3.axisLeft(yC).tickValues(volcYTicks).tickSize(4).tickPadding(3).tickFormat(d3.format("d")));
axCy.select(".domain").remove();
axCy.selectAll(".tick line").attr("stroke","#777");
axCy.selectAll(".tick text").attr("font-size",10).attr("fill","#555").attr("font-family",FONT);
gC.append("g").selectAll("circle").data(volcM5).join("circle")
  .attr("cx",d=>xC(d[0])).attr("cy",d=>yC(d[1])).attr("r",2.4).attr("fill","#22E822").attr("opacity",0.8);
gC.append("g").selectAll("circle").data(volcM22).join("circle")
  .attr("cx",d=>xC(d[0])).attr("cy",d=>yC(d[1])).attr("r",2.4).attr("fill","#2C7A2C").attr("opacity",0.8);
gC.append("line").attr("x1",xC(0)).attr("x2",xC(0)).attr("y1",363).attr("y2",680).attr("stroke","#000").attr("stroke-width",2.5);
gC.append("line").attr("x1",413).attr("x2",733).attr("y1",yC(-Math.log10(pThreshold))).attr("y2",yC(-Math.log10(pThreshold)))
  .attr("stroke","#000").attr("stroke-width",3.5).attr("stroke-dasharray","12,8");
const gmap = Object.fromEntries(volcGenes.map(d=>[d.name,d]));
gC.append("line").attr("x1",533).attr("y1",566).attr("x2",xC(gmap.EPHX1.x)).attr("y2",yC(gmap.EPHX1.y)).attr("stroke","#000").attr("stroke-width",0.8);
gC.append("line").attr("x1",xC(gmap.ACTN4.x)).attr("y1",yC(gmap.ACTN4.y)).attr("x2",552).attr("y2",601).attr("stroke","#000").attr("stroke-width",0.8);
gC.append("circle").attr("cx",xC(gmap.EPHX1.x)).attr("cy",yC(gmap.EPHX1.y)).attr("r",5).attr("fill","#5BDD5B").attr("stroke","#222").attr("stroke-width",0.9);
gC.append("circle").attr("cx",xC(gmap.ACTN4.x)).attr("cy",yC(gmap.ACTN4.y)).attr("r",5).attr("fill","#5BDD5B").attr("stroke","#222").attr("stroke-width",0.9);
gC.append("circle").attr("cx",xC(gmap.RPH3A.x)).attr("cy",yC(gmap.RPH3A.y)).attr("r",4.8).attr("fill","#3E7A3E").attr("stroke","#333").attr("stroke-width",0.9);
gC.append("circle").attr("cx",xC(gmap.NRN1.x)).attr("cy",yC(gmap.NRN1.y)).attr("r",5.5).attr("fill","#6AEE6A").attr("stroke","#F07878").attr("stroke-width",1.6);
txt(gC,"NRN1",638,464,{size:11,bold:true});
txt(gC,"(PWAS p-value= 7.35e-09)",638,474,{size:7.5,fill:"#333"});
txt(gC,"RPH3A",616,482,{size:8,fill:"#333"});
txt(gC,"EPHX1",522,565,{size:8,anchor:"middle",fill:"#222"});
txt(gC,"ACTN4",553,604,{size:8,fill:"#222"});
txt(gC,"Downregulated",456,378,{size:10.5,anchor:"middle",fill:"#333"});
txt(gC,"in AsymAD",456,390,{size:10.5,anchor:"middle",fill:"#333"});
txt(gC,"Upregulated",549,378,{size:10.5,anchor:"middle",fill:"#333"});
txt(gC,"in AsymAD",549,390,{size:10.5,anchor:"middle",fill:"#333"});
gC.append("rect").attr("x",403).attr("y",417).attr("width",52).attr("height",42).attr("fill","#fff").attr("stroke","#000").attr("stroke-width",1);
gC.append("circle").attr("cx",416).attr("cy",429).attr("r",6.5).attr("fill","#22EE22");
gC.append("circle").attr("cx",416).attr("cy",447.5).attr("r",6.5).attr("fill","#1B6A1B");
txt(gC,"M5",427,433,{size:11,fill:"#222"});
txt(gC,"M22",427,451.5,{size:11,fill:"#222"});
const ylC = gC.append("text").attr("transform","translate(399,513) rotate(-90)").attr("text-anchor","middle")
  .attr("font-size",13).attr("font-weight","bold");
ylC.append("tspan").text("-log");
ylC.append("tspan").text("10").attr("font-size",8).attr("dy",3);
ylC.append("tspan").text(" p-value").attr("dy",-3);
txt(gC,"AsymAD vs AD",556,710,{size:13,bold:true,anchor:"middle"});

// ===== Panel D =====
panelLetter("D",2,742);
const gD = svg.append("g");
const yD = d3.scaleLinear().domain([-0.6,0.6]).range([899,768.3]);
const facet = d3.scaleBand().domain(dRegions).range([71,251.7]);
const xD = d3.scalePoint().domain(dGroups).range([0,facet.bandwidth()]).padding(0.55);
const dFill = {Control:"#93C693",AsymAD:"#7ACFDF",AD:"#E2523A"};
const dBoxFill = {Control:"#A9D1A4",AsymAD:"#93D4DE",AD:"#E6826D"};
txt(gD,"NRN1",163,746,{size:14.5,anchor:"middle",fill:"#111"});
dRegions.forEach(r=>txt(gD,r,facet(r)+facet.bandwidth()/2,760,{size:10.5,bold:true,anchor:"middle"}));
dRegions.forEach(r=>{
  dGroups.forEach(gname=>{
    const cx = facet(r)+xD(gname);
    const [wl,q1,md,q3,wh] = dBoxes[r][gname];
    const bw = 23;
    gD.append("line").attr("x1",cx).attr("x2",cx).attr("y1",yD(wh)).attr("y2",yD(wl)).attr("stroke","#3a3a3a").attr("stroke-width",1.6);
    gD.append("rect").attr("x",cx-bw/2).attr("width",bw).attr("y",yD(q3)).attr("height",yD(q1)-yD(q3))
      .attr("fill",dBoxFill[gname]).attr("stroke","#3a3a3a").attr("stroke-width",2);
    gD.append("line").attr("x1",cx-bw/2).attr("x2",cx+bw/2).attr("y1",yD(md)).attr("y2",yD(md)).attr("stroke","#3a3a3a").attr("stroke-width",2.2);
    const vals = dValues[r][gname];
    gD.append("g").selectAll("circle").data(vals).join("circle")
      .attr("cx",(d,i)=>cx + (((i*7)%11)-5)*1.5)
      .attr("cy",d=>yD(d)).attr("r",3.6)
      .attr("fill",dFill[gname]).attr("stroke","#333").attr("stroke-width",0.6).attr("opacity",0.92);
  });
});
dBrackets.forEach(b=>{
  const x1 = facet(b.r)+xD(b.a), x2 = facet(b.r)+xD(b.b), yy = yD(b.y);
  gD.append("path").attr("d",`M${x1},${yy+3}V${yy}H${x2}V${yy+3}`).attr("fill","none").attr("stroke","#222").attr("stroke-width",0.9);
  txt(gD,"***",(x1+x2)/2,yy-1.5,{size:7.5,anchor:"middle",fill:"#222"});
});
gD.append("rect").attr("x",71).attr("y",764.3).attr("width",180.7).attr("height",143.4).attr("fill","none").attr("stroke","#333").attr("stroke-width",1.3);
gD.append("line").attr("x1",facet("BA37")).attr("x2",facet("BA37")).attr("y1",764.3).attr("y2",907.7).attr("stroke","#333").attr("stroke-width",1.3);
const axD = gD.append("g").attr("transform","translate(71,0)")
  .call(d3.axisLeft(yD).tickValues(abundTicks).tickSize(3).tickPadding(3).tickFormat(d3.format(".1f")));
axD.select(".domain").remove();
axD.selectAll(".tick line").attr("stroke","#333");
axD.selectAll(".tick text").attr("font-size",10).attr("fill","#333").attr("font-family",FONT);
dRegions.forEach(r=>dGroups.forEach(gname=>{
  const cx = facet(r)+xD(gname);
  gD.append("line").attr("x1",cx).attr("x2",cx).attr("y1",907.7).attr("y2",910.5).attr("stroke","#333");
  gD.append("text").attr("transform",`translate(${cx+3},${915}) rotate(-45)`).attr("text-anchor","end")
    .attr("font-size",10).attr("fill","#222").text(gname);
}));
const ylD = gD.append("text").attr("transform","translate(41,832) rotate(-90)").attr("text-anchor","middle").attr("font-size",10).attr("font-weight","bold");
ylD.append("tspan").text("NRN1 log");
ylD.append("tspan").text("2").attr("font-size",7).attr("dy",2.5);
ylD.append("tspan").text(" abundance").attr("dy",-2.5);

// ===== Panels E & F =====
const ORANGE = "#CD650C", GREEN = "#6E8C3C";
function panelEF(cfg){
  const g = svg.append("g");
  const x = d3.scaleLinear().domain(cfg.xd).range(cfg.xr);
  const y = d3.scaleLinear().domain(cfg.yd).range(cfg.yr);
  [[cfg.ba6,ORANGE],[cfg.ba37,GREEN]].forEach(([pts,col])=>{
    g.append("g").selectAll("circle").data(pts).join("circle")
      .attr("cx",d=>x(d[0])).attr("cy",d=>y(d[1])).attr("r",4.2)
      .attr("fill",col).attr("stroke","#111").attr("stroke-width",0.8);
  });
  const area = d3.area().x(d=>x(d[0])).y0(d=>y(d[1])).y1(d=>y(d[2])).curve(d3.curveMonotoneX);
  g.append("path").attr("d",area(cfg.band37)).attr("fill","#A3BE85").attr("opacity",0.55);
  g.append("path").attr("d",area(cfg.band6)).attr("fill","#F2A874").attr("opacity",0.55);
  const line = d3.line().x(d=>x(d[0])).y(d=>y(d[1]));
  g.append("path").attr("d",line(cfg.line37)).attr("stroke","#3E6FE2").attr("stroke-width",3).attr("fill","none");
  g.append("path").attr("d",line(cfg.line6)).attr("stroke","#3E6FE2").attr("stroke-width",3).attr("fill","none");
  const ax = g.append("g").attr("transform",`translate(0,${cfg.yr[0]})`)
    .call(d3.axisBottom(x).tickValues(cfg.xt).tickSize(3).tickPadding(3).tickFormat(cfg.xf));
  const ay = g.append("g").attr("transform",`translate(${cfg.xr[0]},0)`)
    .call(d3.axisLeft(y).tickValues([-0.6,-0.3,0,0.3]).tickSize(3).tickPadding(3).tickFormat(d3.format(".1f")));
  [ax,ay].forEach(a=>{
    a.select(".domain").attr("stroke","#000").attr("stroke-width",1.1);
    a.selectAll(".tick line").attr("stroke","#333");
    a.selectAll(".tick text").attr("font-size",9.5).attr("fill","#444").attr("font-family",FONT);
  });
  const yl = g.append("text").attr("transform",`translate(${cfg.ylx},830) rotate(-90)`).attr("text-anchor","middle").attr("font-size",10.5).attr("font-weight","bold");
  yl.append("tspan").text("NRN1 log");
  yl.append("tspan").text("2").attr("font-size",7.5).attr("dy",2.5);
  yl.append("tspan").text(" abundance").attr("dy",-2.5);
  txt(g,cfg.xlab,(cfg.xr[0]+cfg.xr[1])/2,932,{size:11.5,bold:true,anchor:"middle"});
  [[cfg.leg[0],ORANGE,"#E0782A",cfg.lx[0]],[cfg.leg[1],GREEN,"#7E9C52",cfg.lx[1]]].forEach(([t,col,tc,lx])=>{
    g.append("circle").attr("cx",lx).attr("cy",748.3).attr("r",6.3).attr("fill",col).attr("stroke","#111").attr("stroke-width",1);
    txt(g,t[0],lx+11,746,{size:8,fill:tc});
    txt(g,t[1],lx+11,755.5,{size:8,fill:tc});
  });
}
panelLetter("E",276,742);
panelEF({xd:[-3.804,1.894],xr:[320,490],yd:[-0.66,0.546],yr:[906.7,758],ba6:eBA6,ba37:eBA37,band6:eBandBA6,band37:eBandBA37,line6:eLineBA6,line37:eLineBA37,xt:eXTicks,xf:d3.format("d"),xlab:"Global Cognition",ylx:295,leg:eLegend,lx:[326,412.3]});
panelLetter("F",512,742);
panelEF({xd:[-0.345,0.18],xr:[551,722.3],yd:[-0.662,0.556],yr:[906.7,763.3],ba6:fBA6,ba37:fBA37,band6:fBandBA6,band37:fBandBA37,line6:fLineBA6,line37:fLineBA37,xt:slopeTicks,xf:d3.format(".1f"),xlab:"Cognitive Slope",ylx:527,leg:fLegend,lx:[561,650]});
</script>
</body></html>
